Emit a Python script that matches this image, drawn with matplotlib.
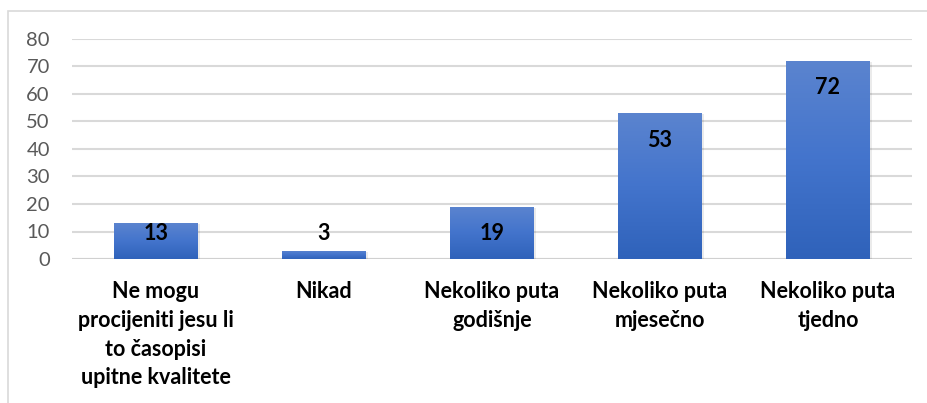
import matplotlib
matplotlib.use("Agg")
import matplotlib.pyplot as plt
import numpy as np
from matplotlib.patches import Rectangle
from matplotlib.colors import LinearSegmentedColormap

categories = ["Ne mogu\nprocijeniti jesu li\nto časopisi\nupitne kvalitete",
              "Nikad",
              "Nekoliko puta\ngodišnje",
              "Nekoliko puta\nmjesečno",
              "Nekoliko puta\ntjedno"]
values = [13, 3, 19, 53, 72]
yticks = [0, 10, 20, 30, 40, 50, 60, 70, 80]

plt.rcParams['font.family'] = ['Lato', 'DejaVu Sans']

W, H = 928, 403
fig = plt.figure(figsize=(W/100, H/100), dpi=100)
fig.patches.append(Rectangle((8/W, -0.1), 1.2, (H-11)/H + 0.1, transform=fig.transFigure,
                             fill=False, edgecolor='#d9d9d9', linewidth=1.2))
ax = fig.add_axes([72/W, (H-259)/H, (912-72)/W, (259-39)/H])
ax.set_xlim(-0.5, len(values)-0.5)
ax.set_ylim(0, 80)
for s in ax.spines.values():
    s.set_visible(False)
ax.set_yticks(yticks)
ax.grid(axis='y', color='#d9d9d9', linewidth=1.5)
ax.set_axisbelow(True)
ax.tick_params(axis='y', length=0, pad=16, labelsize=14.5, labelcolor='#595959')
ax.tick_params(axis='x', length=0, pad=16)
ax.set_xticks(range(len(values)))
ax.set_xticklabels(categories, fontsize=15.5, fontweight='bold', color='#000000', linespacing=1.45, va='top')
ax.axhline(0, color='#d0d0d0', linewidth=1.5, zorder=1)

grad = np.linspace(0, 1, 256).reshape(-1, 1)
cmap = LinearSegmentedColormap.from_list('g', ['#2f62ba', '#4374cc', '#5b84cf'])
width = 0.5
bars = ax.bar(range(len(values)), values, width=width, color='none', edgecolor='none', zorder=2)
for i, (b, v) in enumerate(zip(bars, values)):
    x0 = b.get_x()
    ax.add_patch(Rectangle((x0 + 0.01, -0.3), width, v, facecolor='#000000', alpha=0.08,
                           edgecolor='none', zorder=2))
    im = ax.imshow(grad, extent=[x0, x0 + width, 0, v], origin='lower', cmap=cmap,
                   aspect='auto', zorder=3)
    im.set_clip_path(b)
    ly = max(v - 9.8, 9.3)
    ax.text(i, ly, str(v), ha='center', va='center', fontsize=15.5, fontweight='bold',
            color='#000000', zorder=4)
ax.set_xlim(-0.5, len(values)-0.5)
ax.set_ylim(0, 80)

fig.savefig("out.png", dpi=100)
